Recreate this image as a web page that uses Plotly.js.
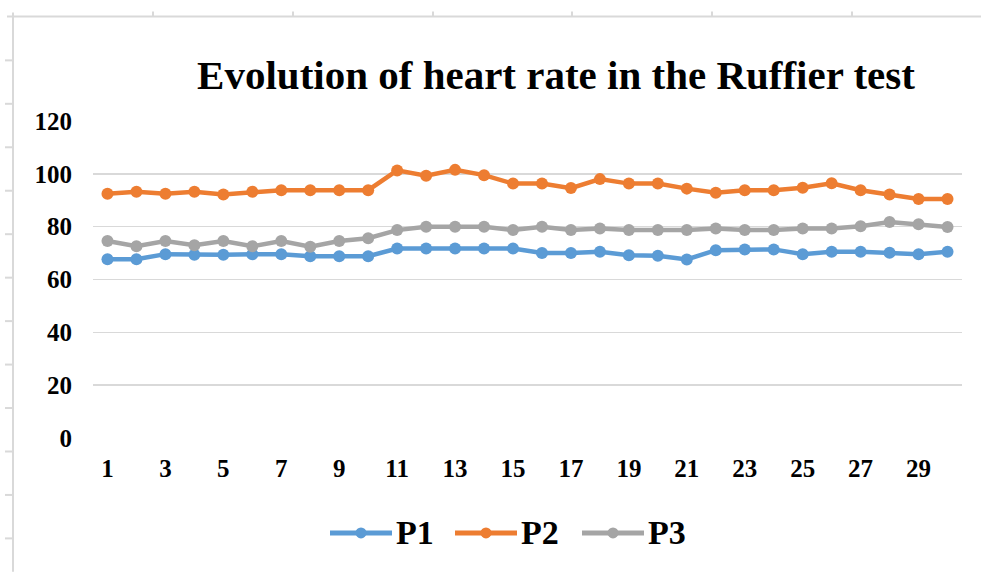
<!DOCTYPE html>
<html>
<head>
<meta charset="utf-8">
<script src="https://cdn.plot.ly/plotly-3.0.1.min.js"></script>
<style>html,body{margin:0;padding:0;background:#fff;}#chart{width:981px;height:572px;}</style>
</head>
<body>
<div id="chart"></div>
<script>
const days = Array.from({length: 30}, (_, i) => i + 1);
const xTickVals = [1,3,5,7,9,11,13,15,17,19,21,23,25,27,29];
const yTickVals = [0,20,40,60,80,100,120];

const P1 = [67.7, 67.7, 69.6, 69.4, 69.4, 69.6, 69.6, 68.8, 68.8, 68.8,
            71.7, 71.7, 71.7, 71.7, 71.7, 70.0, 70.0, 70.5, 69.2, 69.0,
            67.6, 71.1, 71.4, 71.4, 69.6, 70.5, 70.5, 70.1, 69.6, 70.5];
const P2 = [92.5, 93.2, 92.5, 93.2, 92.2, 93.2, 93.8, 93.8, 93.8, 93.8,
            101.3, 99.3, 101.5, 99.5, 96.3, 96.3, 94.6, 98.0, 96.3, 96.3,
            94.4, 92.8, 93.8, 93.8, 94.7, 96.4, 93.8, 92.2, 90.5, 90.5];
const P3 = [74.6, 72.6, 74.6, 73.0, 74.6, 72.6, 74.6, 72.4, 74.6, 75.6,
            78.7, 80.0, 80.0, 80.0, 78.7, 80.0, 78.7, 79.3, 78.7, 78.7,
            78.7, 79.3, 78.7, 78.7, 79.3, 79.3, 80.2, 81.8, 80.9, 79.9];

const seriesNames = ['P1', 'P2', 'P3'];
const seriesColors = ['#5B9BD5', '#ED7D31', '#A5A5A5'];
const seriesData = [P1, P2, P3];

const FONT = "'Liberation Serif', 'Times New Roman', serif";

const traces = seriesData.map((vals, i) => ({
  x: days, y: vals, name: seriesNames[i], type: 'scatter', mode: 'lines+markers',
  line: {color: seriesColors[i], width: 4.5},
  marker: {color: seriesColors[i], size: 12},
  showlegend: false
}));

// pixel -> paper conversion for decoration and legend layout
const L = 93, R = 962, T = 120.7, B = 438;
const px = v => (v - L) / (R - L);
const py = v => (B - v) / (B - T);
const deco = {color: '#d9d9d9', width: 2};
const shapes = [
  {type: 'line', xref: 'paper', yref: 'paper', x0: px(7), x1: px(981), y0: py(16), y1: py(16), line: deco},
  {type: 'line', xref: 'paper', yref: 'paper', x0: px(13), x1: px(13), y0: py(12), y1: py(572), line: deco}
];
[153, 293, 433, 572, 712, 852].forEach(xx => shapes.push(
  {type: 'line', xref: 'paper', yref: 'paper', x0: px(xx), x1: px(xx), y0: py(11), y1: py(16), line: deco}));
[60, 103.5, 147, 190.5, 234, 277.5, 321, 364.5, 408, 451.5, 495, 538.5].forEach(yy => shapes.push(
  {type: 'line', xref: 'paper', yref: 'paper', x0: px(5), x1: px(13), y0: py(yy), y1: py(yy), line: deco}));

// custom legend (long line samples as in the reference)
const legendStarts = [330, 455, 582];
const legendY = 533;
const annotations = [];
seriesNames.forEach((name, i) => {
  const x0 = legendStarts[i], x1 = x0 + 62, xm = (x0 + x1) / 2;
  shapes.push({type: 'line', xref: 'paper', yref: 'paper', x0: px(x0), x1: px(x1), y0: py(legendY), y1: py(legendY),
               line: {color: seriesColors[i], width: 5}});
  shapes.push({type: 'circle', xref: 'paper', yref: 'paper', x0: px(xm - 5.5), x1: px(xm + 5.5),
               y0: py(legendY + 5.5), y1: py(legendY - 5.5),
               fillcolor: seriesColors[i], line: {width: 0}});
  annotations.push({text: name, xref: 'paper', yref: 'paper', x: px(x1 + 2), y: py(legendY),
                    xanchor: 'left', yanchor: 'middle', showarrow: false,
                    font: {family: FONT, size: 34, color: '#000', weight: 'bold'}});
});

const layout = {
  width: 981, height: 572,
  paper_bgcolor: '#ffffff', plot_bgcolor: '#ffffff',
  margin: {l: L, r: 981 - R, t: T, b: 572 - B},
  title: {text: 'Evolution of heart rate in the Ruffier test',
          font: {family: FONT, size: 41, color: '#000', weight: 'bold'},
          xref: 'container', yref: 'container', x: 556 / 981, xanchor: 'center',
          y: 1 - 75 / 572, yanchor: 'middle'},
  xaxis: {range: [0.5, 30.5], tickmode: 'array', tickvals: xTickVals, ticktext: xTickVals.map(String),
          showgrid: false, zeroline: false, showline: false, ticks: '',
          ticklabelstandoff: 13,
          tickfont: {family: FONT, size: 25, color: '#000', weight: 'bold'}},
  yaxis: {range: [0, 120], tickmode: 'array', tickvals: yTickVals,
          showgrid: true, gridcolor: '#d9d9d9', gridwidth: 1.5, zeroline: false, showline: false, ticks: '',
          ticklabelstandoff: 20,
          tickfont: {family: FONT, size: 25, color: '#000', weight: 'bold'}},
  showlegend: false,
  shapes: shapes,
  annotations: annotations
};

Plotly.newPlot('chart', traces, layout, {staticPlot: true, displayModeBar: false});
</script>
</body>
</html>
